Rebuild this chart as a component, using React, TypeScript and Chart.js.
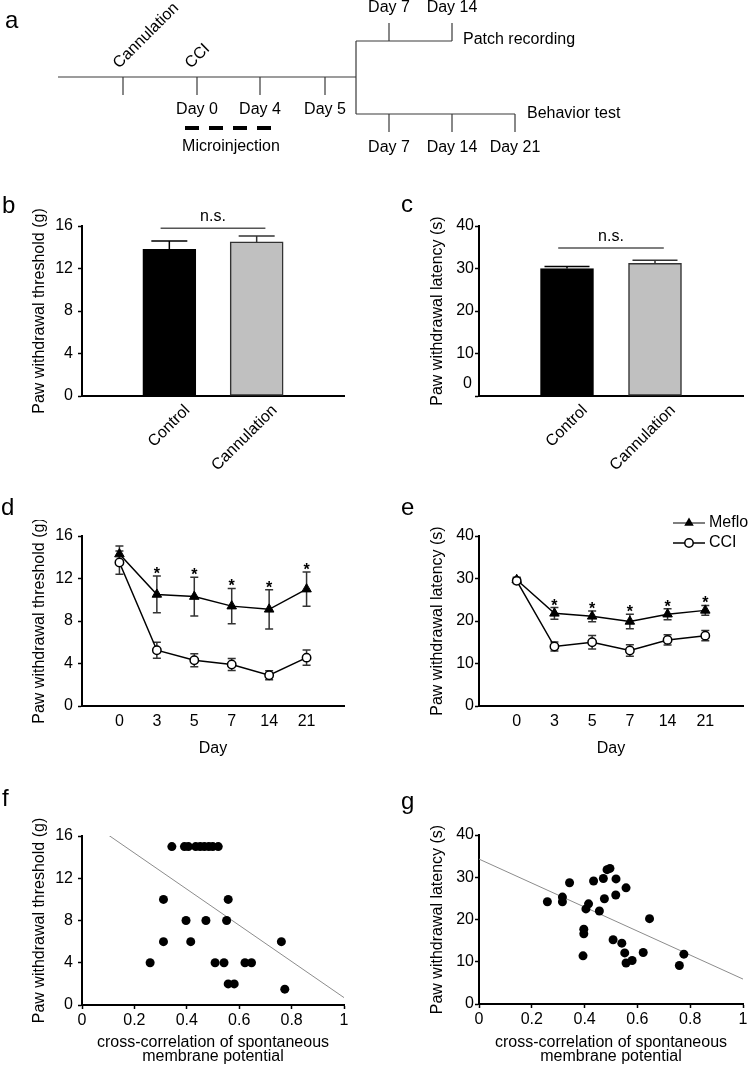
import React, { useEffect, useRef } from 'react';
import { Chart, registerables } from 'chart.js';

Chart.register(...registerables);

const FONT = '"Liberation Sans", Arial, Helvetica, sans-serif';
Chart.defaults.font.family = FONT;
Chart.defaults.font.size = 16;
Chart.defaults.color = '#000';

// ---------- Panel a (timeline) ----------
const preEvents = ['Cannulation', 'CCI'];
const timelineDays = ['Day 0', 'Day 4', 'Day 5'];
const patchDays = ['Day 7', 'Day 14'];
const behaviorDays = ['Day 7', 'Day 14', 'Day 21'];
const patchLabel = 'Patch recording';
const behaviorLabel = 'Behavior test';
const injectionLabel = 'Microinjection';

// ---------- Panels b, c ----------
const barCategories = ['Control', 'Cannulation'];
const thresholdMeans = [13.8, 14.5];
const thresholdSems = [0.8, 0.55];
const latencyMeans = [30.0, 31.2];
const latencySems = [0.45, 0.75];
const nsThresholdLevel = 15.8;
const nsLatencyLevel = 34.8;

// ---------- Panels d, e ----------
const dayLabels = ['0', '3', '5', '7', '14', '21'];
const seriesNames = ['Meflo', 'CCI'];
const mefloThreshold = [14.3, 10.5, 10.3, 9.4, 9.1, 11.0];
const mefloThresholdSem = [0.75, 1.73, 1.82, 1.66, 1.85, 1.62];
const cciThreshold = [13.5, 5.25, 4.3, 3.9, 2.9, 4.55];
const cciThresholdSem = [1.1, 0.75, 0.61, 0.56, 0.42, 0.72];
const mefloLatency = [29.7, 21.8, 21.1, 19.9, 21.6, 22.5];
const mefloLatencySem = [0.6, 1.37, 1.25, 1.7, 1.3, 1.17];
const cciLatency = [29.45, 14.0, 15.0, 13.05, 15.55, 16.55];
const cciLatencySem = [0.6, 1.05, 1.56, 1.37, 1.2, 1.2];
const significant = [false, true, true, true, true, true];

// ---------- Panels f, g ----------
const corrTickLabels = ['0', '0.2', '0.4', '0.6', '0.8', '1'];
const corrTitle = ['cross-correlation of spontaneous', 'membrane potential'];
const fCorr = [0.343, 0.391, 0.406, 0.434, 0.451, 0.467, 0.484, 0.499, 0.52, 0.311, 0.558, 0.397, 0.473, 0.552, 0.311, 0.415, 0.761, 0.26, 0.508, 0.542, 0.622, 0.647, 0.558, 0.581, 0.774];
const fThreshold = [15, 15, 15, 15, 15, 15, 15, 15, 15, 10, 10, 8, 8, 8, 6, 6, 6, 4, 4, 4, 4, 4, 2, 2, 1.5];
const fFitX = [0.1, 1];
const fFitY = [16.1, 0.7];
const gCorr = [0.259, 0.316, 0.316, 0.343, 0.434, 0.471, 0.485, 0.496, 0.519, 0.557, 0.518, 0.475, 0.415, 0.405, 0.456, 0.646, 0.397, 0.397, 0.394, 0.508, 0.541, 0.552, 0.622, 0.557, 0.58, 0.776, 0.759];
const gLatency = [24.2, 25.3, 24.2, 28.7, 29.1, 29.7, 31.8, 32.1, 29.6, 27.5, 25.8, 24.9, 23.7, 22.5, 22.0, 20.2, 17.7, 16.6, 11.4, 15.2, 14.4, 12.1, 12.2, 9.7, 10.3, 11.8, 9.1];
const gFitX = [0, 1];
const gFitY = [34.3, 5.9];

const yTitleThreshold = 'Paw withdrawal threshold (g)';
const yTitleLatency = 'Paw withdrawal latency (s)';
const xTitleDay = 'Day';

type Box = { l: number; t: number; w: number; h: number };
type Area = { left: number; top: number; right: number; bottom: number };

function frame(box: Box, area: Area) {
  return {
    padding: { left: 0, top: area.top - box.t, right: box.l + box.w - area.right, bottom: 0 },
    yWidth: area.left - box.l,
    xHeight: box.t + box.h - area.bottom,
  };
}

const baseOptions: any = {
  responsive: false,
  maintainAspectRatio: false,
  animation: false,
  devicePixelRatio: 1,
  events: [],
  plugins: { legend: { display: false }, tooltip: { enabled: false } },
};

function yAxis(o: { max: number; step: number; title: string; yWidth: number; titleOffset: number; tickPad: number; hideZero?: boolean }) {
  return {
    type: 'linear',
    position: 'left',
    min: 0,
    max: o.max,
    ticks: {
      stepSize: o.step,
      padding: o.tickPad,
      color: '#000',
      font: { size: 16 },
      callback: (v: number) => (o.hideZero && v === 0 ? '' : String(v)),
    },
    grid: { display: true, drawOnChartArea: false, drawTicks: true, tickLength: 4, tickColor: '#000', tickWidth: 1.5 },
    border: { display: true, color: '#000', width: 2 },
    title: { display: true, text: o.title, color: '#000', font: { size: 16 }, padding: { top: o.titleOffset, bottom: 0 } },
    afterFit: (s: any) => {
      s.width = o.yWidth;
    },
  };
}

// ---------- Plugins ----------
const timelinePlugin = {
  id: 'timeline',
  afterDraw(chart: any) {
    const ctx = chart.ctx;
    const X = (v: number) => chart.scales.x.getPixelForValue(v);
    const Y = (v: number) => chart.scales.y.getPixelForValue(v);
    const seg = (x1: number, y1: number, x2: number, y2: number) => {
      ctx.moveTo(X(x1), Y(y1));
      ctx.lineTo(X(x2), Y(y2));
    };
    const dayTicks = [197, 260, 325];
    const upperTicks = [389, 452];
    const lowerTicks = [389, 452, 515];
    ctx.save();
    ctx.strokeStyle = '#3a3a3a';
    ctx.lineWidth = 1.2;
    ctx.beginPath();
    seg(58, 77, 356, 77);
    [123, ...dayTicks].forEach((x) => seg(x, 77, x, 95));
    seg(356, 41, 356, 114);
    seg(356, 41, 452, 41);
    upperTicks.forEach((x) => seg(x, 41, x, 23));
    seg(356, 114, 515, 114);
    lowerTicks.forEach((x) => seg(x, 114, x, 132));
    ctx.stroke();

    ctx.beginPath();
    ctx.setLineDash([14, 10]);
    ctx.lineWidth = 4;
    ctx.strokeStyle = '#000';
    seg(185, 128, 272, 128);
    ctx.stroke();
    ctx.setLineDash([]);

    ctx.fillStyle = '#000';
    ctx.font = `16px ${FONT}`;
    ctx.textAlign = 'center';
    ctx.textBaseline = 'middle';
    timelineDays.forEach((d, i) => ctx.fillText(d, X(dayTicks[i]), Y(110)));
    ctx.fillText(injectionLabel, X(231), Y(147));
    patchDays.forEach((d, i) => ctx.fillText(d, X(upperTicks[i]), Y(8)));
    behaviorDays.forEach((d, i) => ctx.fillText(d, X(lowerTicks[i]), Y(148)));
    ctx.textAlign = 'left';
    ctx.fillText(patchLabel, X(463), Y(40));
    ctx.fillText(behaviorLabel, X(527), Y(114));

    ctx.textBaseline = 'alphabetic';
    [[119, 69], [191, 69]].forEach(([x, y], i) => {
      ctx.save();
      ctx.translate(X(x), Y(y));
      ctx.rotate(-Math.PI / 4);
      ctx.fillText(preEvents[i], 0, 0);
      ctx.restore();
    });
    ctx.restore();
  },
};

function barErrorPlugin(sems: number[], cap: number, nsLevel: number, raisedZero: boolean) {
  return {
    id: 'barErr',
    afterDatasetsDraw(chart: any) {
      const ctx = chart.ctx;
      const xs = chart.scales.x;
      const ys = chart.scales.y;
      const ds = chart.data.datasets[0];
      ctx.save();
      ctx.lineWidth = 1.5;
      ds.data.forEach((p: any, i: number) => {
        const x = xs.getPixelForValue(p.x);
        const base = ys.getPixelForValue(p.y);
        const top = ys.getPixelForValue(p.y + sems[i]);
        ctx.strokeStyle = i === 0 ? '#000' : '#333';
        ctx.beginPath();
        ctx.moveTo(x, base);
        ctx.lineTo(x, top);
        ctx.moveTo(x - cap / 2, top);
        ctx.lineTo(x + cap / 2, top);
        ctx.stroke();
      });
      // n.s. bracket
      const yl = ys.getPixelForValue(nsLevel);
      ctx.strokeStyle = '#555';
      ctx.beginPath();
      ctx.moveTo(xs.getPixelForValue(-0.1), yl);
      ctx.lineTo(xs.getPixelForValue(1.1), yl);
      ctx.stroke();
      ctx.fillStyle = '#000';
      ctx.font = `16px ${FONT}`;
      ctx.textAlign = 'center';
      ctx.textBaseline = 'middle';
      ctx.fillText('n.s.', xs.getPixelForValue(0.5), yl - 12);
      if (raisedZero) {
        ctx.textAlign = 'right';
        ctx.fillText('0', chart.chartArea.left - 7, ys.getPixelForValue(0) - 12);
      }
      ctx.restore();
    },
  };
}

function lineErrorPlugin(series: { means: number[]; sems: number[] }[], stars: boolean[], legend: boolean) {
  return {
    id: 'lineErr',
    beforeDatasetsDraw(chart: any) {
      const ctx = chart.ctx;
      const xs = chart.scales.x;
      const ys = chart.scales.y;
      ctx.save();
      ctx.strokeStyle = '#333';
      ctx.lineWidth = 1.5;
      series.forEach((s) =>
        s.means.forEach((m, i) => {
          const x = xs.getPixelForValue(i);
          const t = ys.getPixelForValue(m + s.sems[i]);
          const b = ys.getPixelForValue(m - s.sems[i]);
          ctx.beginPath();
          ctx.moveTo(x, t);
          ctx.lineTo(x, b);
          ctx.moveTo(x - 4, t);
          ctx.lineTo(x + 4, t);
          ctx.moveTo(x - 4, b);
          ctx.lineTo(x + 4, b);
          ctx.stroke();
        })
      );
      ctx.restore();
    },
    afterDatasetsDraw(chart: any) {
      const ctx = chart.ctx;
      const xs = chart.scales.x;
      const ys = chart.scales.y;
      const s = series[0];
      ctx.save();
      ctx.fillStyle = '#000';
      ctx.font = `bold 16px ${FONT}`;
      ctx.textAlign = 'center';
      ctx.textBaseline = 'alphabetic';
      stars.forEach((on, i) => {
        if (!on) return;
        ctx.fillText('*', xs.getPixelForValue(i), ys.getPixelForValue(s.means[i] + s.sems[i]) + 3);
      });
      if (legend) {
        const a = chart.chartArea;
        const rows = [a.top - 13, a.top + 7];
        ctx.font = `16px ${FONT}`;
        ctx.textAlign = 'left';
        ctx.textBaseline = 'middle';
        rows.forEach((y, k) => {
          const x1 = a.right - 70;
          const x2 = a.right - 38;
          const xm = (x1 + x2) / 2;
          ctx.strokeStyle = k === 0 ? '#555' : '#000';
          ctx.lineWidth = 1.5;
          ctx.beginPath();
          ctx.moveTo(x1, y);
          ctx.lineTo(x2, y);
          ctx.stroke();
          ctx.beginPath();
          if (k === 0) {
            const r = 5.5;
            ctx.moveTo(xm, y - r);
            ctx.lineTo(xm + r * 0.866, y + r / 2);
            ctx.lineTo(xm - r * 0.866, y + r / 2);
            ctx.closePath();
            ctx.fillStyle = '#000';
            ctx.fill();
          } else {
            ctx.arc(xm, y, 4.2, 0, Math.PI * 2);
            ctx.fillStyle = '#fff';
            ctx.fill();
            ctx.strokeStyle = '#000';
            ctx.stroke();
          }
          ctx.fillStyle = '#000';
          ctx.fillText(chart.data.datasets[k].label, a.right - 34, y);
        });
      }
      ctx.restore();
    },
  };
}

// ---------- Builders ----------
function buildTimeline() {
  return {
    type: 'scatter',
    data: { datasets: [] },
    options: {
      ...baseOptions,
      layout: { padding: 0 },
      scales: {
        x: { type: 'linear', min: 0, max: 750, display: false },
        y: { type: 'linear', min: 0, max: 165, reverse: true, display: false },
      },
    },
    plugins: [timelinePlugin],
  };
}

function buildBar(o: {
  box: Box; area: Area; means: number[]; sems: number[]; max: number; step: number; title: string;
  titleX: number; tickPad: number; cap: number; nsLevel: number; raisedZero: boolean;
}) {
  const fr = frame(o.box, o.area);
  return {
    type: 'bar',
    data: {
      datasets: [
        {
          data: o.means.map((v, i) => ({ x: i, y: v })),
          backgroundColor: ['#000', '#c0c0c0'],
          borderColor: ['#000', '#333'],
          borderWidth: 1.5,
          borderSkipped: false,
          barThickness: 53,
        },
      ],
    },
    options: {
      ...baseOptions,
      layout: { padding: fr.padding },
      scales: {
        x: {
          type: 'linear',
          min: -1,
          max: 2,
          offset: false,
          afterBuildTicks: (s: any) => {
            s.ticks = barCategories.map((_, i) => ({ value: i }));
          },
          ticks: {
            autoSkip: false,
            minRotation: 45,
            maxRotation: 45,
            padding: 5,
            labelOffset: 18,
            color: '#000',
            font: { size: 16 },
            callback: (v: number) => barCategories[v] ?? '',
          },
          grid: { display: true, offset: false, drawOnChartArea: false, drawTicks: false },
          border: { display: true, color: '#000', width: 2 },
          afterFit: (s: any) => {
            s.height = fr.xHeight;
          },
        },
        y: yAxis({ max: o.max, step: o.step, title: o.title, yWidth: fr.yWidth, titleOffset: o.titleX - o.box.l - 9.6, tickPad: o.tickPad, hideZero: o.raisedZero }),
      },
    },
    plugins: [barErrorPlugin(o.sems, o.cap, o.nsLevel, o.raisedZero)],
  };
}

function buildLine(o: {
  box: Box; area: Area; mef: number[]; mefSem: number[]; cci: number[]; cciSem: number[]; max: number; step: number;
  title: string; titleX: number; tickPad: number; legend: boolean;
}) {
  const fr = frame(o.box, o.area);
  return {
    type: 'line',
    data: {
      datasets: [
        {
          label: seriesNames[0],
          data: o.mef.map((v, i) => ({ x: i, y: v })),
          borderColor: '#000',
          borderWidth: 1.5,
          pointStyle: 'triangle',
          pointRadius: 5.5,
          pointBackgroundColor: '#000',
          pointBorderColor: '#000',
          pointBorderWidth: 1,
          order: 2,
        },
        {
          label: seriesNames[1],
          data: o.cci.map((v, i) => ({ x: i, y: v })),
          borderColor: '#000',
          borderWidth: 1.5,
          pointStyle: 'circle',
          pointRadius: 4.2,
          pointBackgroundColor: '#fff',
          pointBorderColor: '#000',
          pointBorderWidth: 1.5,
          order: 1,
        },
      ],
    },
    options: {
      ...baseOptions,
      layout: { padding: fr.padding },
      scales: {
        x: {
          type: 'linear',
          min: -1,
          max: 6,
          afterBuildTicks: (s: any) => {
            s.ticks = dayLabels.map((_, i) => ({ value: i }));
          },
          ticks: { autoSkip: false, maxRotation: 0, padding: 6, color: '#000', font: { size: 16 }, callback: (v: number) => dayLabels[v] ?? '' },
          grid: { display: true, drawOnChartArea: false, drawTicks: false },
          border: { display: true, color: '#000', width: 2 },
          title: { display: true, text: xTitleDay, color: '#000', font: { size: 16 }, padding: { top: 0, bottom: 6.4 } },
          afterFit: (s: any) => {
            s.height = fr.xHeight;
          },
        },
        y: yAxis({ max: o.max, step: o.step, title: o.title, yWidth: fr.yWidth, titleOffset: o.titleX - o.box.l - 9.6, tickPad: o.tickPad }),
      },
    },
    plugins: [
      lineErrorPlugin(
        [
          { means: o.mef, sems: o.mefSem },
          { means: o.cci, sems: o.cciSem },
        ],
        significant,
        o.legend
      ),
    ],
  };
}

function buildScatter(o: {
  box: Box; area: Area; xs: number[]; ys: number[]; fitX: number[]; fitY: number[]; max: number; step: number;
  title: string; titleX: number; tickPad: number;
}) {
  const fr = frame(o.box, o.area);
  return {
    type: 'scatter',
    data: {
      datasets: [
        {
          data: o.xs.map((x, i) => ({ x, y: o.ys[i] })),
          pointRadius: 4.5,
          pointBackgroundColor: '#000',
          pointBorderColor: '#000',
          pointBorderWidth: 0,
          order: 1,
        },
        {
          data: o.fitX.map((x, i) => ({ x, y: o.fitY[i] })),
          showLine: true,
          borderColor: '#8c8c8c',
          borderWidth: 1,
          pointRadius: 0,
          order: 2,
        },
      ],
    },
    options: {
      ...baseOptions,
      layout: { padding: fr.padding },
      scales: {
        x: {
          type: 'linear',
          min: 0,
          max: 1,
          ticks: { stepSize: 0.2, autoSkip: false, maxRotation: 0, padding: 2, color: '#000', font: { size: 16 }, callback: (_v: number, i: number) => corrTickLabels[i] ?? '' },
          grid: { display: true, drawOnChartArea: false, drawTicks: true, tickLength: 4, tickColor: '#000', tickWidth: 1.5 },
          border: { display: true, color: '#000', width: 2 },
          title: { display: true, text: corrTitle, color: '#000', font: { size: 16, lineHeight: 0.875 }, padding: { top: 0, bottom: 4.3 } },
          afterFit: (s: any) => {
            s.height = fr.xHeight;
          },
        },
        y: yAxis({ max: o.max, step: o.step, title: o.title, yWidth: fr.yWidth, titleOffset: o.titleX - o.box.l - 9.6, tickPad: o.tickPad }),
      },
    },
  };
}

function ChartCanvas({ box, build }: { box: Box; build: () => any }) {
  const ref = useRef<HTMLCanvasElement | null>(null);
  useEffect(() => {
    if (!ref.current) return;
    const chart = new Chart(ref.current, build());
    return () => chart.destroy();
  }, []);
  return (
    <div style={{ position: 'absolute', left: box.l, top: box.t, width: box.w, height: box.h }}>
      <canvas ref={ref} width={box.w} height={box.h} style={{ width: box.w, height: box.h, display: 'block' }} />
    </div>
  );
}

const panelLetters: { t: string; x: number; y: number }[] = [
  { t: 'a', x: 5, y: 8 },
  { t: 'b', x: 2, y: 193 },
  { t: 'c', x: 401, y: 192 },
  { t: 'd', x: 1, y: 495 },
  { t: 'e', x: 401, y: 495 },
  { t: 'f', x: 2, y: 786 },
  { t: 'g', x: 401, y: 789 },
];

const boxA: Box = { l: 0, t: 0, w: 750, h: 165 };
const boxB: Box = { l: 0, t: 180, w: 375, h: 300 };
const boxC: Box = { l: 375, t: 180, w: 375, h: 300 };
const boxD: Box = { l: 0, t: 520, w: 375, h: 245 };
const boxE: Box = { l: 375, t: 500, w: 375, h: 265 };
const boxF: Box = { l: 0, t: 815, w: 375, h: 253 };
const boxG: Box = { l: 375, t: 815, w: 375, h: 253 };

export default function App() {
  return (
    <div style={{ position: 'absolute', left: 0, top: 0, width: 750, height: 1068, background: '#fff', fontFamily: FONT, overflow: 'hidden' }}>
      <ChartCanvas box={boxA} build={buildTimeline} />
      <ChartCanvas
        box={boxB}
        build={() =>
          buildBar({ box: boxB, area: { left: 82, top: 226, right: 344, bottom: 396 }, means: thresholdMeans, sems: thresholdSems, max: 16, step: 4, title: yTitleThreshold, titleX: 40, tickPad: 5, cap: 36, nsLevel: nsThresholdLevel, raisedZero: false })
        }
      />
      <ChartCanvas
        box={boxC}
        build={() =>
          buildBar({ box: boxC, area: { left: 479, top: 226, right: 743, bottom: 396 }, means: latencyMeans, sems: latencySems, max: 40, step: 10, title: yTitleLatency, titleX: 438, tickPad: 1, cap: 45, nsLevel: nsLatencyLevel, raisedZero: true })
        }
      />
      <ChartCanvas
        box={boxD}
        build={() =>
          buildLine({ box: boxD, area: { left: 82, top: 536, right: 344, bottom: 706 }, mef: mefloThreshold, mefSem: mefloThresholdSem, cci: cciThreshold, cciSem: cciThresholdSem, max: 16, step: 4, title: yTitleThreshold, titleX: 40, tickPad: 5, legend: false })
        }
      />
      <ChartCanvas
        box={boxE}
        build={() =>
          buildLine({ box: boxE, area: { left: 479, top: 536, right: 743, bottom: 706 }, mef: mefloLatency, mefSem: mefloLatencySem, cci: cciLatency, cciSem: cciLatencySem, max: 40, step: 10, title: yTitleLatency, titleX: 438, tickPad: 1, legend: true })
        }
      />
      <ChartCanvas
        box={boxF}
        build={() =>
          buildScatter({ box: boxF, area: { left: 82, top: 836, right: 344, bottom: 1005 }, xs: fCorr, ys: fThreshold, fitX: fFitX, fitY: fFitY, max: 16, step: 4, title: yTitleThreshold, titleX: 40, tickPad: 5 })
        }
      />
      <ChartCanvas
        box={boxG}
        build={() =>
          buildScatter({ box: boxG, area: { left: 479, top: 835, right: 743, bottom: 1004 }, xs: gCorr, ys: gLatency, fitX: gFitX, fitY: gFitY, max: 40, step: 10, title: yTitleLatency, titleX: 438, tickPad: 1 })
        }
      />
      {panelLetters.map((p) => (
        <div key={p.t} style={{ position: 'absolute', left: p.x, top: p.y, fontSize: 24, lineHeight: '24px', color: '#000' }}>
          {p.t}
        </div>
      ))}
    </div>
  );
}
